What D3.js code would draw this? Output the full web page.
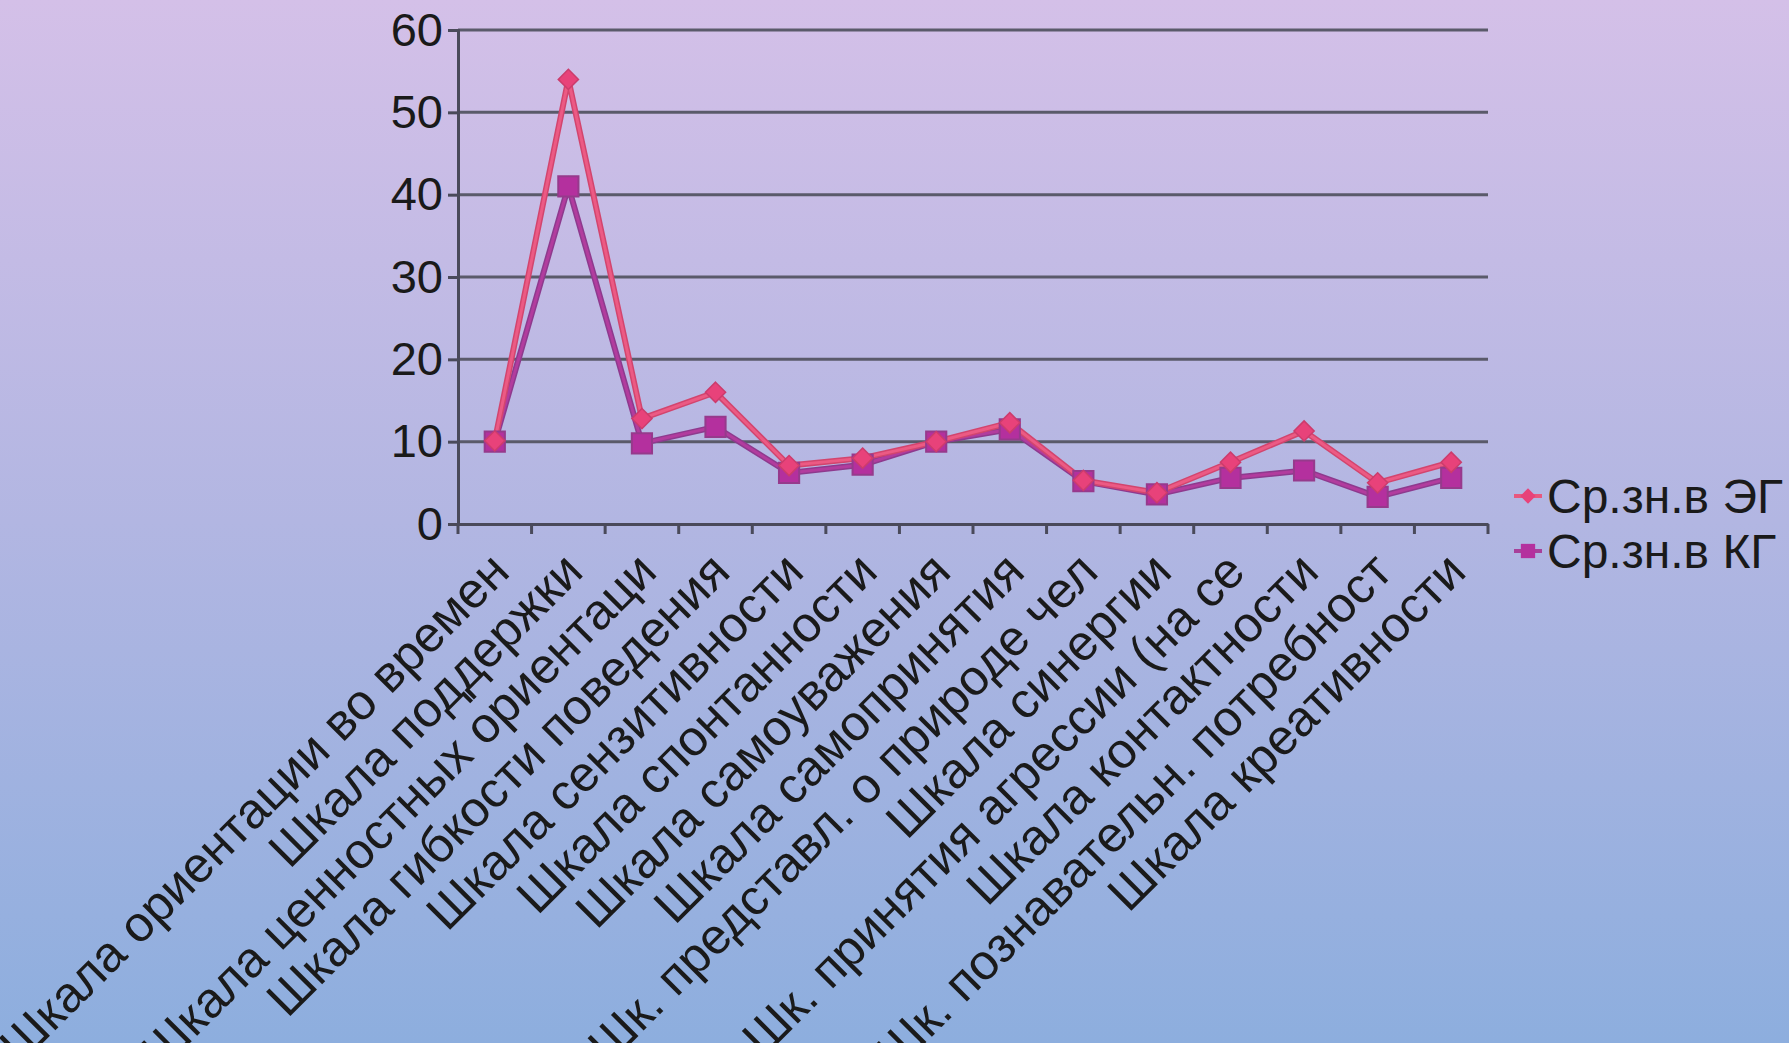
<!DOCTYPE html>
<html><head><meta charset="utf-8">
<script src="https://cdn.jsdelivr.net/npm/d3@7"></script>
<style>html,body{margin:0;padding:0;overflow:hidden}svg{display:block}</style>
</head><body>
<script>
const categories = [
  "Шкала ориентации во времен",
  "Шкала поддержки",
  "Шкала ценностных ориентаци",
  "Шкала гибкости поведения",
  "Шкала сензитивности",
  "Шкала спонтанности",
  "Шкала самоуважения",
  "Шкала самопринятия",
  "Шк. представл. о природе чел",
  "Шкала синергии",
  "Шк. принятия агрессии (на се",
  "Шкала контактности",
  "Шк. познавательн. потребност",
  "Шкала креативности"
];
const seriesNames = ["Ср.зн.в ЭГ", "Ср.зн.в КГ"];
const valuesEG = [10.1, 54, 12.8, 16, 7.1, 8, 10, 12.3, 5.3, 3.8, 7.5, 11.3, 5, 7.5];
const valuesKG = [10, 41, 9.8, 11.8, 6.2, 7.2, 10, 11.5, 5.2, 3.6, 5.6, 6.5, 3.3, 5.6];
const yTicks = [0, 10, 20, 30, 40, 50, 60];

const W = 1789, H = 1043;
const svg = d3.select("body").append("svg").attr("width", W).attr("height", H);
const defs = svg.append("defs");
const grad = defs.append("linearGradient").attr("id", "bg").attr("x1", 0).attr("y1", 0).attr("x2", 0).attr("y2", 1);
grad.append("stop").attr("offset", "0%").attr("stop-color", "#d4c0e8");
grad.append("stop").attr("offset", "50%").attr("stop-color", "#b2b6e2");
grad.append("stop").attr("offset", "100%").attr("stop-color", "#8daede");
svg.append("rect").attr("width", W).attr("height", H).attr("fill", "url(#bg)");

const x0 = 458, x1 = 1488, yTop = 30, yBot = 524;
const x = d3.scaleBand().domain(categories).range([x0, x1]).padding(0);
const y = d3.scaleLinear().domain([0, 60]).range([yBot, yTop]);
const font = "'Liberation Sans', Arial, sans-serif";

// gridlines
svg.append("g").selectAll("line").data(yTicks.slice(1)).join("line")
  .attr("x1", x0).attr("x2", x1).attr("y1", d => y(d)).attr("y2", d => y(d))
  .attr("stroke", "#5a5a6a").attr("stroke-width", 3);

// y axis
const yAxis = svg.append("g").attr("transform", `translate(${x0},0)`)
  .call(d3.axisLeft(y).tickValues(yTicks).tickSize(10).tickPadding(5));
yAxis.select(".domain").attr("stroke", "#4a4a5a").attr("stroke-width", 3);
yAxis.selectAll(".tick line").attr("stroke", "#4a4a5a").attr("stroke-width", 3);
yAxis.selectAll(".tick text").attr("font-family", font).attr("font-size", 47).attr("fill", "#1a1a1a");

// x axis
const xAxis = svg.append("g").attr("transform", `translate(0,${yBot})`)
  .call(d3.axisBottom(x).tickSize(0).tickFormat(""));
xAxis.select(".domain").attr("stroke", "#4a4a5a").attr("stroke-width", 3);
const bounds = categories.map(c => x(c)).concat([x1]);
xAxis.append("g").selectAll("line").data(bounds).join("line")
  .attr("x1", d => d).attr("x2", d => d).attr("y1", 0).attr("y2", 10)
  .attr("stroke", "#4a4a5a").attr("stroke-width", 3);
xAxis.append("g").selectAll("text").data(categories).join("text")
  .attr("transform", d => `translate(${x(d) + x.bandwidth() / 2 + 17},${50}) rotate(-45)`)
  .attr("text-anchor", "end")
  .attr("font-family", font).attr("font-size", 50).attr("fill", "#1a1a1a")
  .text(d => d);

const cx = d => x(d) + x.bandwidth() / 2;
const line = d3.line().x(d => cx(d.c)).y(d => y(d.v));
const dataEG = categories.map((c, i) => ({ c, v: valuesEG[i] }));
const dataKG = categories.map((c, i) => ({ c, v: valuesKG[i] }));

// KG line (drawn first)
svg.append("path").datum(dataKG).attr("d", line).attr("fill", "none")
  .attr("stroke", "#8e3a8e").attr("stroke-width", 6);
svg.append("path").datum(dataKG).attr("d", line).attr("fill", "none")
  .attr("stroke", "#b23c9e").attr("stroke-width", 3);
// EG line
svg.append("path").datum(dataEG).attr("d", line).attr("fill", "none")
  .attr("stroke", "#d2456e").attr("stroke-width", 6);
svg.append("path").datum(dataEG).attr("d", line).attr("fill", "none")
  .attr("stroke", "#ec5a84").attr("stroke-width", 3);

const diamond = d3.symbol().type(d3.symbolDiamond2).size(260);
const square = d3.symbol().type(d3.symbolSquare2).size(520);

svg.append("g").selectAll("path").data(dataKG).join("path")
  .attr("transform", d => `translate(${cx(d.c)},${y(d.v)})`)
  .attr("d", square).attr("fill", "#b4309e").attr("stroke", "#963a8c").attr("stroke-width", 2);
svg.append("g").selectAll("path").data(dataEG).join("path")
  .attr("transform", d => `translate(${cx(d.c)},${y(d.v)})`)
  .attr("d", diamond).attr("fill", "#e8427a").attr("stroke", "#cc3c6c").attr("stroke-width", 1.5);

// legend
const lg = svg.append("g");
const legendY = [496, 551];
lg.append("line").attr("x1", 1514).attr("x2", 1542).attr("y1", legendY[0]).attr("y2", legendY[0])
  .attr("stroke", "#e8587f").attr("stroke-width", 4);
lg.append("path").attr("transform", `translate(1528,${legendY[0]})`).attr("d", d3.symbol().type(d3.symbolDiamond2).size(150))
  .attr("fill", "#e8427a");
lg.append("line").attr("x1", 1514).attr("x2", 1542).attr("y1", legendY[1]).attr("y2", legendY[1])
  .attr("stroke", "#a8409a").attr("stroke-width", 4);
lg.append("path").attr("transform", `translate(1528,${legendY[1]})`).attr("d", d3.symbol().type(d3.symbolSquare2).size(260))
  .attr("fill", "#b4309e");
lg.selectAll("text").data(seriesNames).join("text")
  .attr("x", 1547).attr("y", (d, i) => legendY[i]).attr("dy", "0.36em")
  .attr("font-family", font).attr("font-size", 48).attr("fill", "#1a1a1a")
  .text(d => d);
</script>
</body></html>
